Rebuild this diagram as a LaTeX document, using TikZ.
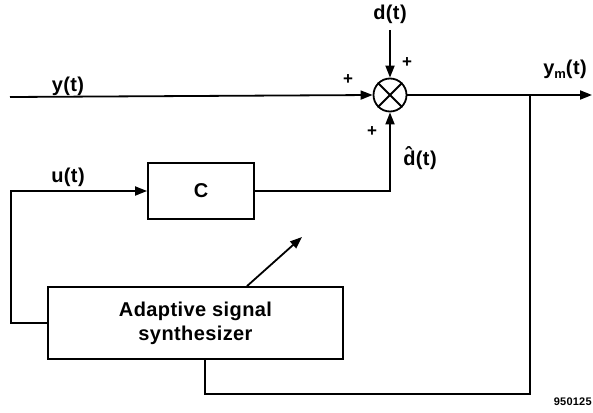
\documentclass[tikz,border=0pt]{standalone}
\usepackage{fontspec}
\setmainfont{Liberation Sans}[LetterSpace=2]
\usetikzlibrary{arrows.meta,positioning}

\begin{document}
\begin{tikzpicture}[x=1pt,y=-1pt,line width=1.8pt,
  >={Triangle[length=12pt,width=9pt]},
  blk/.style={draw,inner sep=0pt,font=\bfseries\fontsize{20}{24}\selectfont,align=center},
  sumnode/.style={draw,circle,minimum size=33pt,inner sep=0pt},
  lbl/.style={font=\bfseries\fontsize{20}{22}\selectfont,inner sep=1pt},
  sgn/.style={font=\bfseries\fontsize{17}{18}\selectfont,inner sep=0pt}]

\useasboundingbox (0,0) rectangle (593,412);

% Blocks
\node[sumnode] (sum) at (390,95) {};
\draw (sum.45) -- (sum.225);
\draw (sum.135) -- (sum.315);
\node[blk,minimum width=106pt,minimum height=56pt] (ctrl) at (201,191) {C};
\node[blk,minimum width=295pt,minimum height=72pt] (synth) at (195.5,323)
  {Adaptive signal\\synthesizer};

% Free ends
\coordinate (yin) at (10,97);
\coordinate (dtop) at (390,30);
\coordinate (yout) at (592,95);
\coordinate (branch) at (530,95);
\coordinate (fb) at (205,394);
\coordinate (adj) at (302,237);

% Signal paths
\draw[->] (yin) -- (sum.west);
\draw[->] (dtop) -- (sum.north);
\draw[->] (sum.east) -- (yout);
\draw[->] (ctrl.east) -| (sum.south);
\draw[->] (synth.west) -- ++(-36,0) |- (ctrl.west);
\draw (branch) |- (fb) -- (fb |- synth.south);
\draw[->] ([xshift=51.5pt]synth.north) -- (adj);

% Labels
\node[lbl] (ylbl) at (68,86) {y(t)};
\node[lbl] (ulbl) at (68,177) {u(t)};
\node[lbl] (dlbl) at (390,14) {d(t)};
\node[lbl] (ymlbl) at (565,69) {y\raisebox{-4pt}{\fontsize{13}{13}\selectfont m}(t)};
\node[lbl] (dhlbl) at (420,158) {d\symbol{"0302}(t)};
\node[sgn] (p1) at (348,80) {+};
\node[sgn] (p2) at (407,63) {+};
\node[sgn] (p3) at (372,132) {+};
\node[font=\bfseries\fontsize{11}{12}\selectfont,anchor=west,inner sep=0pt] (fig) at (553,402) {950125};

\end{tikzpicture}
\end{document}
